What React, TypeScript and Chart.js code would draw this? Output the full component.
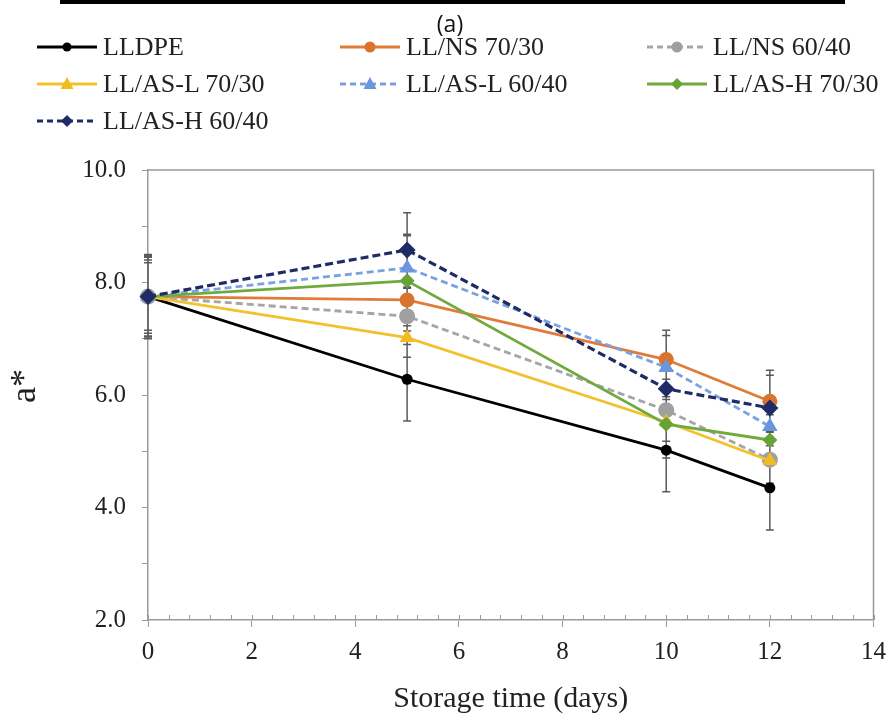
import React, { useEffect, useRef } from 'react';
import { Chart, registerables } from 'chart.js';

Chart.register(...registerables);

// ---- data ----
const days = [0, 5, 10, 12];
const seriesNames = ['LLDPE', 'LL/NS 70/30', 'LL/NS 60/40', 'LL/AS-L 70/30', 'LL/AS-L 60/40', 'LL/AS-H 70/30', 'LL/AS-H 60/40'];
const lldpe = [7.75, 6.28, 5.02, 4.35];
const llns7030 = [7.75, 7.69, 6.63, 5.89];
const llns6040 = [7.75, 7.40, 5.73, 4.85];
const llasl7030 = [7.75, 7.02, 5.52, 4.83];
const llasl6040 = [7.75, 8.26, 6.49, 5.44];
const llash7030 = [7.75, 8.03, 5.48, 5.20];
const llash6040 = [7.75, 8.58, 6.11, 5.77];

const lldpeErr = [0.72, 0.74, 0.74, 0.75];
const llns7030Err = [0.7, 0.55, 0.52, 0.55];
const llns6040Err = [0.65, 0.5, 0.55, 0.5];
const llasl7030Err = [0.6, 0.35, 0.45, 0.4];
const llasl6040Err = [0.6, 0.6, 0.57, 0.5];
const llash7030Err = [0.65, 0.8, 0.6, 0.45];
const llash6040Err = [0.75, 0.66, 0.55, 0.58];

const xTickValues = [0, 2, 4, 6, 8, 10, 12, 14];
const yTickLabels = ['2.0', '4.0', '6.0', '8.0', '10.0'];

const AXIS = '#9a9a9a';
const SERIF = '"Liberation Serif", "Times New Roman", serif';

type Style = {
  color: string;
  markerColor: string;
  dash: number[];
  point: 'circle' | 'triangle' | 'rectRot';
  radius: number;
  width: number;
};

const styles: Style[] = [
  { color: '#000000', markerColor: '#000000', dash: [], point: 'circle', radius: 5.5, width: 2.8 },
  { color: '#E07B39', markerColor: '#D9732E', dash: [], point: 'circle', radius: 7.5, width: 2.8 },
  { color: '#A5A5A5', markerColor: '#A0A0A0', dash: [7, 4], point: 'circle', radius: 8, width: 2.8 },
  { color: '#F2C12E', markerColor: '#F0BC1E', dash: [], point: 'triangle', radius: 8.5, width: 2.8 },
  { color: '#7BA2E0', markerColor: '#6A96DE', dash: [7, 4], point: 'triangle', radius: 9, width: 2.8 },
  { color: '#6FAA3F', markerColor: '#66A336', dash: [], point: 'rectRot', radius: 7.5, width: 2.8 },
  { color: '#1F2B66', markerColor: '#1F2B66', dash: [8, 4], point: 'rectRot', radius: 8.5, width: 3.2 },
];

const values = [lldpe, llns7030, llns6040, llasl7030, llasl6040, llash7030, llash6040];
const errors = [lldpeErr, llns7030Err, llns6040Err, llasl7030Err, llasl6040Err, llash7030Err, llash6040Err];

const decorPlugin = {
  id: 'decor',
  beforeDatasetsDraw(chart: any) {
    const { ctx, chartArea, scales } = chart;
    const { left, right, top, bottom } = chartArea;
    const x = scales.x;
    const y = scales.y;
    ctx.save();
    // top & right border
    ctx.strokeStyle = AXIS;
    ctx.lineWidth = 1.5;
    ctx.beginPath();
    ctx.moveTo(left, top);
    ctx.lineTo(right, top);
    ctx.lineTo(right, bottom);
    ctx.stroke();
    // inward ticks on x axis (minor every 0.4)
    ctx.lineWidth = 1;
    ctx.beginPath();
    for (let i = 0; i <= 35; i++) {
      const px = Math.round(x.getPixelForValue(i * 0.4)) + 0.5;
      ctx.moveTo(px, bottom);
      ctx.lineTo(px, bottom - 5);
    }
    for (const v of xTickValues) {
      const px = Math.round(x.getPixelForValue(v)) + 0.5;
      ctx.moveTo(px, bottom);
      ctx.lineTo(px, bottom - 5);
    }
    ctx.stroke();
    // error bars
    ctx.strokeStyle = '#5a5a5a';
    ctx.lineWidth = 1.5;
    ctx.beginPath();
    values.forEach((vals, si) => {
      vals.forEach((v, j) => {
        const e = errors[si][j];
        const px = x.getPixelForValue(days[j]);
        const pTop = y.getPixelForValue(v + e);
        const pBot = y.getPixelForValue(v - e);
        ctx.moveTo(px, pTop);
        ctx.lineTo(px, pBot);
        ctx.moveTo(px - 4, pTop);
        ctx.lineTo(px + 4, pTop);
        ctx.moveTo(px - 4, pBot);
        ctx.lineTo(px + 4, pBot);
      });
    });
    ctx.stroke();
    ctx.restore();
  },
};

function LegendMarker({ s }: { s: Style }) {
  const cx = 30;
  const cy = 15;
  let marker: React.ReactNode;
  if (s.point === 'circle') {
    const r = s.color === '#000000' ? 4.5 : 5.5;
    marker = <circle cx={cx} cy={cy} r={r} fill={s.markerColor} />;
  } else if (s.point === 'triangle') {
    marker = <polygon points={`${cx},${cy - 7} ${cx + 6.5},${cy + 5} ${cx - 6.5},${cy + 5}`} fill={s.markerColor} />;
  } else {
    marker = <polygon points={`${cx},${cy - 6} ${cx + 6},${cy} ${cx},${cy + 6} ${cx - 6},${cy}`} fill={s.markerColor} />;
  }
  return (
    <svg width={60} height={30} style={{ display: 'block', flex: '0 0 auto' }}>
      <line x1={0} y1={cy} x2={60} y2={cy} stroke={s.color} strokeWidth={2.8}
        strokeDasharray={s.dash.length ? '6 4' : undefined} />
      {marker}
    </svg>
  );
}

const legendCols = [37, 340, 647];
const legendRows = [47, 84, 121];

export default function App() {
  const ref = useRef<HTMLCanvasElement>(null);

  useEffect(() => {
    if (!ref.current) return;
    const n = seriesNames.length;
    const chart = new Chart(ref.current, {
      type: 'line',
      data: {
        datasets: seriesNames.map((name, i) => ({
          label: name,
          data: days.map((d, j) => ({ x: d, y: values[i][j] })),
          borderColor: styles[i].color,
          backgroundColor: styles[i].markerColor,
          pointBackgroundColor: styles[i].markerColor,
          pointBorderColor: styles[i].markerColor,
          pointBorderWidth: 0,
          borderWidth: styles[i].width,
          borderDash: styles[i].dash,
          pointStyle: styles[i].point,
          pointRadius: styles[i].radius,
          tension: 0,
          clip: false as any,
          order: n - i,
        })),
      },
      options: {
        responsive: false,
        animation: false,
        events: [],
        layout: { padding: { top: 170, right: 15, left: 0, bottom: 0 } },
        plugins: {
          legend: { display: false },
          tooltip: { enabled: false },
          title: { display: false },
        },
        scales: {
          x: {
            type: 'linear',
            min: 0,
            max: 14,
            afterFit: (s: any) => { s.height = 102; },
            afterBuildTicks: (s: any) => { s.ticks = xTickValues.map((v) => ({ value: v })); },
            ticks: {
              stepSize: 2,
              autoSkip: false,
              maxRotation: 0,
              padding: 10,
              color: '#222',
              font: { family: SERIF, size: 25 },
              callback: (v: any) => String(v),
            },
            grid: { drawOnChartArea: false, tickLength: 7, color: AXIS, lineWidth: 1 },
            border: { color: AXIS, width: 1.5 },
            title: {
              display: true,
              text: 'Storage time (days)',
              color: '#222',
              font: { family: SERIF, size: 30 },
              padding: { top: 0, bottom: 5 },
            },
          },
          y: {
            type: 'linear',
            min: 2,
            max: 10,
            afterFit: (s: any) => { s.width = 148; },
            ticks: {
              stepSize: 1,
              autoSkip: false,
              padding: 16,
              color: '#222',
              font: { family: SERIF, size: 25 },
              callback: (v: any) => {
                const k = yTickLabels.indexOf(Number(v).toFixed(1));
                return k >= 0 ? yTickLabels[k] : '';
              },
            },
            grid: { drawOnChartArea: false, tickLength: 6, color: AXIS, lineWidth: 1 },
            border: { color: AXIS, width: 1.5 },
            title: {
              display: true,
              text: '  a*',
              color: '#222',
              font: { family: SERIF, size: 36 },
              padding: { top: 4, bottom: 0 },
            },
          },
        },
      } as any,
      plugins: [decorPlugin],
    });
    return () => chart.destroy();
  }, []);

  return (
    <div style={{ position: 'fixed', left: 0, top: 0, width: 896, height: 722, background: '#fff', overflow: 'hidden' }}>
      <canvas ref={ref} width={896} height={722} style={{ position: 'absolute', left: 0, top: 0 }} />
      <div style={{ position: 'absolute', left: 60, top: 0, width: 785, height: 4, background: '#000' }} />
      <div style={{ position: 'absolute', left: 0, top: 9, width: 900, textAlign: 'center', font: '23px "Open Sans", sans-serif', lineHeight: '28px', color: '#111' }}>(a)</div>
      {seriesNames.map((name, i) => {
        const col = i % 3;
        const row = Math.floor(i / 3);
        return (
          <div key={name} style={{
            position: 'absolute', left: legendCols[col], top: legendRows[row] - 15, height: 30,
            display: 'flex', alignItems: 'center', whiteSpace: 'nowrap',
          }}>
            <LegendMarker s={styles[i]} />
            <span style={{ marginLeft: 6, font: `26px ${SERIF}`, lineHeight: '30px', color: '#222' }}>{name}</span>
          </div>
        );
      })}
    </div>
  );
}
